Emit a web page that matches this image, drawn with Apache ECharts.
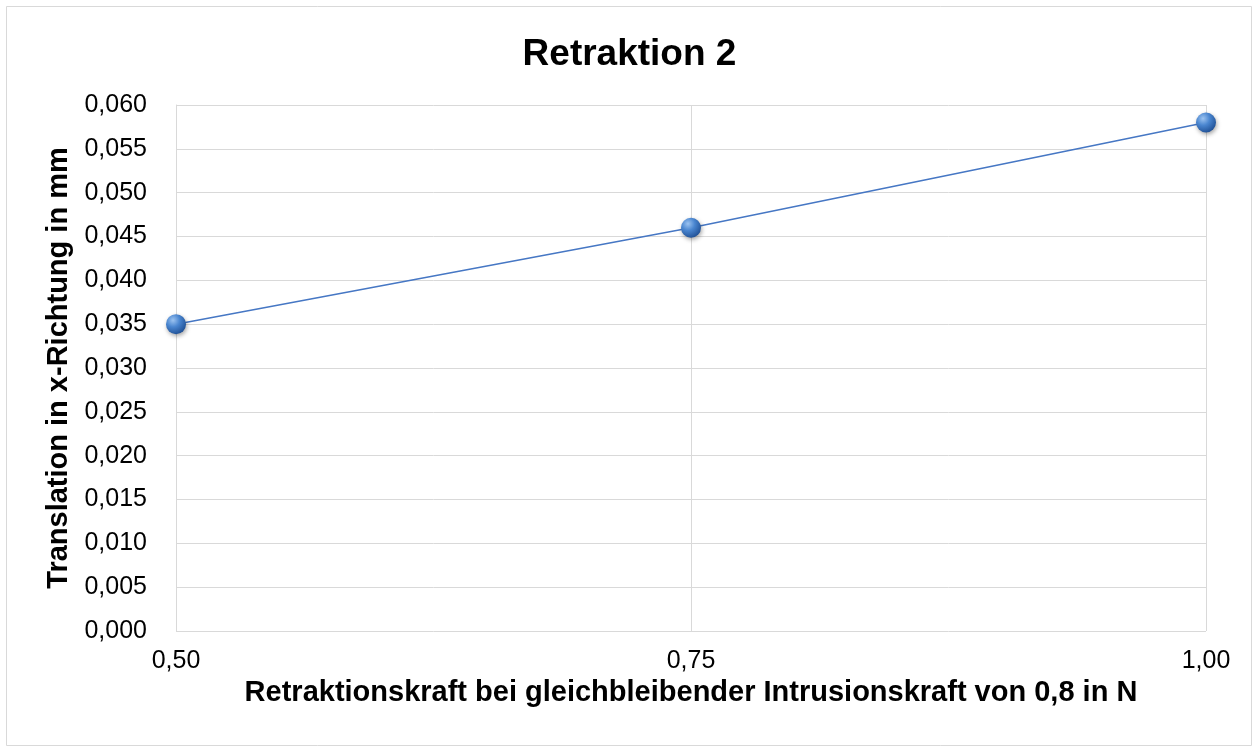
<!DOCTYPE html>
<html>
<head>
<meta charset="utf-8">
<script src="https://cdn.jsdelivr.net/npm/echarts@6/dist/echarts.min.js"></script>
<style>
  html, body { margin: 0; padding: 0; background: #fff; }
  #chart { width: 1259px; height: 753px; }
</style>
</head>
<body>
<div id="chart"></div>
<script>
const xValues = [0.5, 0.75, 1.0]
const yValues = [0.035, 0.046, 0.058]
const titleText = 'Retraktion 2'
const xName = 'Retraktionskraft bei gleichbleibender Intrusionskraft von 0,8 in N'
const yName = 'Translation in x-Richtung in mm'

const chart = echarts.init(document.getElementById('chart'))
const font = '"Liberation Sans", Arial, sans-serif'
const gridColor = '#d9d9d9'

const sphere = new echarts.graphic.RadialGradient(0.35, 0.3, 0.75, [
  { offset: 0, color: '#9cc3f0' },
  { offset: 0.45, color: '#4a86d0' },
  { offset: 1, color: '#1f4f94' }
])

chart.setOption({
  backgroundColor: '#fff',
  graphic: [{
    type: 'rect',
    shape: { x: 6.5, y: 6.5, width: 1245, height: 739 },
    style: { fill: 'none', stroke: '#d9d9d9', lineWidth: 1 },
    silent: true
  }],
  title: {
    text: titleText,
    left: 'center',
    top: 31,
    textStyle: { fontFamily: font, fontSize: 37, fontWeight: 'bold', color: '#000' }
  },
  grid: { left: 176, right: 53, top: 105, bottom: 122 },
  xAxis: {
    type: 'value',
    min: 0.5,
    max: 1.0,
    interval: 0.25,
    name: xName,
    nameLocation: 'middle',
    nameGap: 46,
    nameTextStyle: { fontFamily: font, fontSize: 29, fontWeight: 'bold', color: '#000' },
    axisLine: { show: false },
    axisTick: { show: false },
    axisLabel: {
      margin: 18,
      fontFamily: font, fontSize: 25, color: '#000',
      formatter: v => v.toFixed(2).replace('.', ',')
    },
    splitLine: { show: true, lineStyle: { color: gridColor, width: 1 } }
  },
  yAxis: {
    type: 'value',
    min: 0,
    max: 0.06,
    interval: 0.005,
    name: yName,
    nameLocation: 'middle',
    nameGap: 103,
    nameTextStyle: { fontFamily: font, fontSize: 29, fontWeight: 'bold', color: '#000' },
    axisLine: { show: true, lineStyle: { color: gridColor } },
    axisTick: { show: false },
    axisLabel: {
      margin: 29,
      fontFamily: font, fontSize: 25, color: '#000',
      formatter: v => v.toFixed(3).replace('.', ',')
    },
    splitLine: { show: true, lineStyle: { color: gridColor, width: 1 } }
  },
  series: [{
    type: 'line',
    data: xValues.map((x, i) => [x, yValues[i]]),
    symbol: 'circle',
    symbolSize: 20,
    lineStyle: { color: '#4677c4', width: 1.5 },
    itemStyle: {
      color: sphere,
      shadowColor: 'rgba(0,0,0,0.35)',
      shadowBlur: 4,
      shadowOffsetX: 1,
      shadowOffsetY: 2
    },
    silent: true,
    animation: false
  }],
  animation: false
})
</script>
</body>
</html>
